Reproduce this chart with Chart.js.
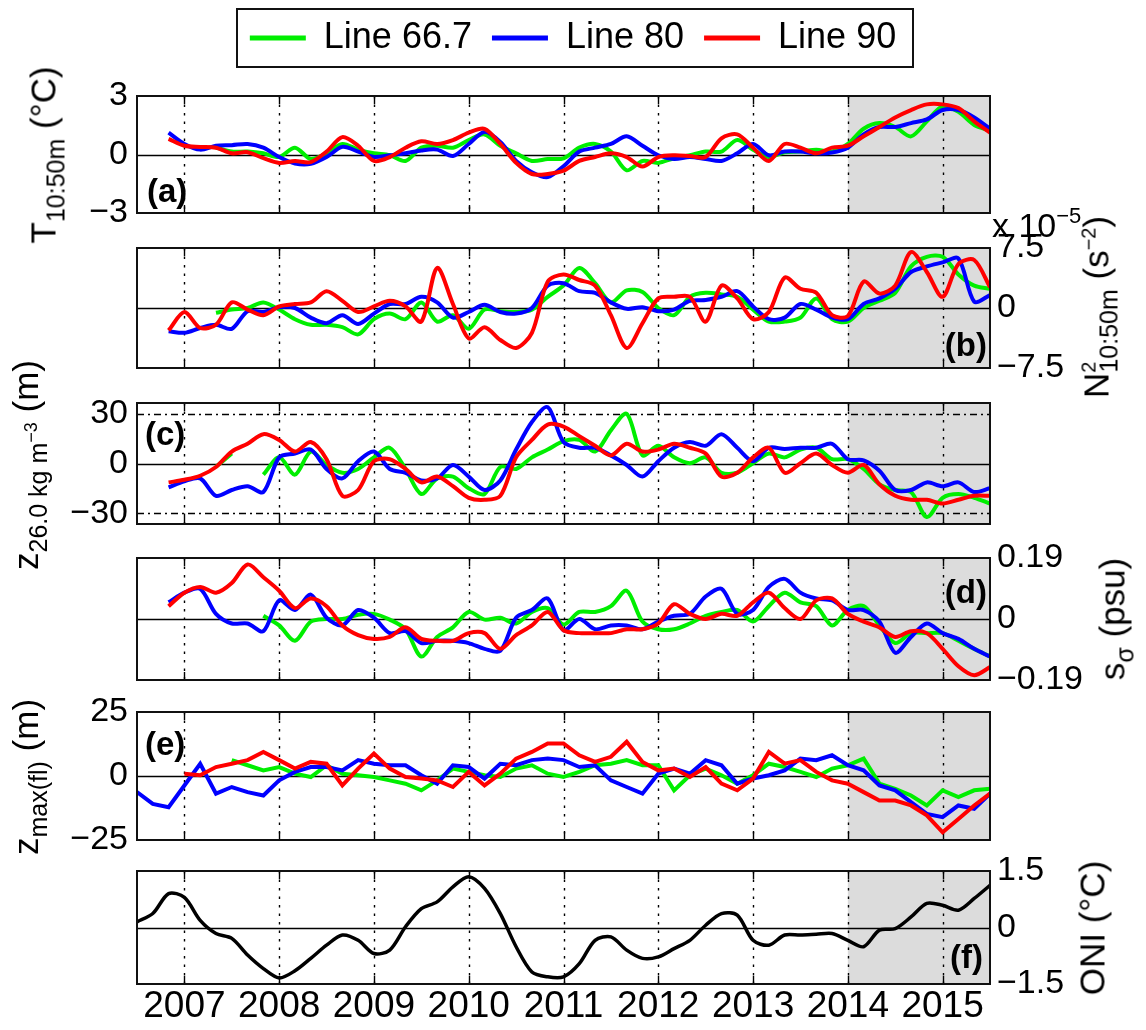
<!DOCTYPE html>
<html>
<head>
<meta charset="utf-8">
<title>Hydrographic anomalies, Lines 66.7 / 80 / 90</title>
<script src="https://cdn.jsdelivr.net/npm/chart.js@4.4.1/dist/chart.umd.min.js"></script>
<style>
  html, body { margin: 0; padding: 0; background: #fff; }
  #fig { position: relative; width: 1146px; height: 1030px; overflow: hidden;
         font-family: "Liberation Sans", Arial, sans-serif; color: #000; }
  .panel { position: absolute; left: 0; width: 1146px; }
  .ylab { position: absolute; font-size: 35px; line-height: 1; white-space: nowrap;
          transform: translate(-50%, -50%) rotate(-90deg); z-index: 5; }
  .ylab sub { font-size: 25px; vertical-align: -9px; line-height: 0; }
  .ylab sup { font-size: 20px; vertical-align: 13px; line-height: 0; }
  .ylab sub sup { font-size: 18px; vertical-align: 10px; }
  #mult { position: absolute; left: 992px; top: 208px; font-size: 34px; line-height: 1;
          white-space: nowrap; z-index: 5; }
  #mult sup { font-size: 22px; vertical-align: 14px; line-height: 0; }
</style>
</head>
<body>
<div id="fig">
  <div class="ylab" style="left:43px; top:155px">T<sub>10:50m</sub> (°C)</div>
  <div class="ylab" style="left:1096px; top:307px">N<sup>2</sup><sub style="margin-left:-11px">10:50m</sub> (s<sup>−2</sup>)</div>
  <div id="mult">x 10<sup>−5</sup></div>
  <div class="ylab" style="left:25px; top:465px">z<sub>26.0 kg m<sup>−3</sup></sub> (m)</div>
  <div class="ylab" style="left:1112px; top:619px">s<sub>σ</sub> (psu)</div>
  <div class="ylab" style="left:25px; top:777px">z<sub>max(fl)</sub> (m)</div>
  <div class="ylab" style="left:1092px; top:928px">ONI (°C)</div>
</div>
<script>
// sampling grid: every two months from mid-2006 to mid-2015
const years = [];
for (let k = 0; k <= 54; k++) years.push(2006.5 + k / 6);
const yearTicks = [2007, 2008, 2009, 2010, 2011, 2012, 2013, 2014, 2015];
const shadeFrom = 2014;
const seriesNames = ['Line 66.7', 'Line 80', 'Line 90'];

// (a) temperature 10-50 m (degC)
const tempGreen = [null, null, null, null, null, 0.35, 0.15, 0.15, 0.06, -0.13, 0.35, -0.23, 0.06, 0.54, 0.25,
  0.06, -0.04, -0.33, 0.35, 0.45, 0.35, 0.74, 1.03, 0.45, 0.06, -0.33, -0.23, -0.2, 0.35, 0.54,
  0.15, -0.81, -0.33, -0.43, -0.19, -0.04, 0.15, 0.15, 0.74, 0.25, -0.13, 0.12, 0.15, 0.25, 0.15,
  0.54, 1.32, 1.61, 1.41, 0.93, 1.7, 2.48, 2.19, 1.51, 1.22];
const tempBlue = [null, null, 1.12, 0.54, 0.25, 0.45, 0.48, 0.54, 0.35, -0.13, -0.46, -0.48, -0.13, 0.39, 0.15,
  -0.13, -0.04, 0.06, 0.21, 0.25, -0.08, 0.54, 1.16, 0.64, -0.33, -0.91, -1.16, -0.6, 0.15, 0.35,
  0.54, 0.93, 0.45, -0.04, -0.23, -0.13, -0.23, -0.33, 0.06, 0.54, -0.04, 0.15, 0.15, 0.06, 0.1,
  0.35, 1.03, 1.41, 1.41, 1.61, 1.8, 2.28, 2.28, 1.9, 1.32];
const tempRed = [null, null, 0.8, 0.45, 0.39, 0.35, 0.06, 0.12, -0.19, -0.43, -0.33, -0.39, 0.15, 0.89, 0.45,
  -0.33, -0.13, 0.35, 0.68, 0.54, 0.74, 1.12, 1.32, 0.54, -0.43, -1.0, -1.0, -0.83, -0.33, -0.13,
  0.06, -0.13, -0.62, -0.13, -0.04, -0.08, -0.13, 0.83, 1.03, 0.35, -0.33, 0.54, 0.35, 0.06, 0.35,
  0.45, 0.93, 1.41, 1.9, 2.28, 2.57, 2.57, 2.38, 1.7, 1.12];

// (b) N^2 10-50 m (1e-5 s^-2)
const n2Green = [null, null, null, null, null, -0.6, -0.2, 0, 0.7, -0.2, -1.4, -2.1, -2.1, -2.4, -3.3,
  -1.4, -0.7, -1.4, 0.7, -1.7, -0.9, -2.6, -0.2, -0.4, -0.5, -0.2, 1.4, 2.8, 5.0, 3.1,
  0.7, 2.2, 2.0, 0, -0.9, 1.4, 1.9, 1.7, 1.4, -0.2, -1.7, -1.7, -1.2, 1.2, -1.4,
  -1.7, 0, 0.9, 1.9, 5.2, 6.4, 6.4, 4.2, 2.8, 2.4];
const n2Blue = [null, null, -2.9, -3.1, -2.5, -2.1, -2.6, -0.4, -0.5, 0.1, 0, -1.2, -1.9, -0.9, -2.0,
  -0.7, 0.5, 0.5, 1.4, 0.7, -1.2, -0.5, 0.4, -0.5, -0.7, 0, 2.8, 3.1, 2.1, 1.9,
  0.7, -0.1, 0.1, -0.4, -0.2, 0.9, 1.0, 1.4, 2.1, 0.2, -1.4, -1.2, 0.5, -0.2, -1.2,
  -1.4, 0.5, 1.2, 2.4, 4.5, 5.2, 5.7, 6.2, 0.8, 1.6];
const n2Red = [null, null, -2.8, -0.5, -2.5, -2.1, 0.7, -0.2, -0.9, 0.2, 0.5, 0.7, 2.1, 0.9, -0.5,
  0.2, 0.9, 0.2, -1.7, 5.0, 0.5, -3.8, -2.4, -4.0, -5.0, -3.1, 3.3, 4.2, 3.5, 2.8,
  -0.9, -5.0, -1.9, 1.2, 1.4, 1.4, -1.7, 2.8, 1.2, -1.4, -0.5, 3.8, 2.4, 1.9, -0.9,
  -1.0, 3.3, 1.8, 2.8, 7.0, 4.5, 1.4, 5.5, 6.0, 2.6];

// (c) depth of 26.0 kg m-3 isopycnal (m)
const z26Green = [null, null, null, null, null, -2, 6, null, -6.7, 3.7, -6.7, 7.2, -0.9, -5.6, -3.3,
  3.7, 9.5, -3.3, -18.4, -9, -7.9, -14.9, -18.4, -2.1, -3.3, 3.7, 8.4, 13.5, 14.2, 7.2,
  20, 30, 4.9, 10.7, 3.7, 0.2, 3.7, -5.6, -5.6, 0.2, 6, 3.7, 8.4, 9.5, 2.6,
  2.6, -3.3, -12.6, -16, -17.2, -32.3, -20.7, -18.4, -20.7, -24.2];
const z26Blue = [null, null, -14.4, -10.7, -9, -19.5, -16, -13.7, -17.2, 3.7, 6, 8.4, -3.3, -9, 1.4,
  7.2, -3.3, -5.6, -10.2, -9, -0.9, -7.9, -16, -10.2, 8.4, 25, 34, 13, 9.5, 9.5,
  4.9, -0.9, -7.9, 1.4, 9.5, 13, 10.7, 17.7, 9.5, 1.4, 9.5, 8.8, 9.5, 9.5, 11.9,
  2.6, 1.9, -4.4, -16, -16, -11.4, -13.7, -11.4, -17.2, -14.9];
const z26Red = [null, null, -11.4, -9.8, -7.4, -2.1, 7.2, 11.9, 17.7, 14.2, 7.2, 13, 2.6, -19.5, -16,
  1.4, 2.6, -3.3, -11.4, -7.9, -13.7, -20.7, -21.9, -19.5, 3.7, 14.2, 23.5, 22.3, 16.5, 10.7,
  4.9, 11.9, 7.2, 8.4, 11.9, 9.5, 6, -7.9, -5.6, 3.7, 9.5, -5.6, 0.2, 6, -0.9,
  -5.6, -0.9, -12.6, -19.5, -21.9, -21.9, -24.2, -21.9, -19.5, -19.5];

// (d) salinity on sigma surfaces (psu)
const salGreen = [null, null, null, null, null, null, null, null, 0.01, -0.02, -0.068, -0.008, 0, 0, 0.013,
  0.016, -0.002, -0.032, -0.117, -0.056, -0.026, 0.022, -0.002, 0.004, -0.014, 0.022, 0.034, -0.017, 0.022, 0.022,
  0.04, 0.088, -0.008, -0.032, -0.032, -0.014, 0.01, 0.022, 0.028, -0.008, 0.04, 0.082, 0.052, 0.04, -0.02,
  0.028, 0.04, -0.02, -0.075, -0.044, -0.044, -0.044, -0.068, -0.093, -0.117];
const salBlue = [null, null, 0.052, 0.082, 0.094, 0.016, -0.014, -0.014, -0.038, 0.058, 0.028, 0.076, 0.004, -0.02, 0.028,
  0.004, -0.044, -0.038, -0.075, -0.068, -0.068, -0.075, -0.093, -0.099, 0.004, 0.028, 0.064, -0.035, 0, -0.032,
  -0.02, -0.02, -0.032, -0.008, 0.01, 0.016, 0.07, 0.094, 0.016, 0.028, 0.1, 0.125, 0.082, 0.064, 0.058,
  0.028, 0.028, -0.008, -0.105, -0.056, -0.014, -0.044, -0.062, -0.093, -0.117];
const salRed = [null, null, 0.04, 0.082, 0.1, 0.082, 0.112, 0.17, 0.13, 0.088, 0.034, 0.064, 0.04, -0.02, -0.05,
  -0.062, -0.056, -0.026, -0.062, -0.068, -0.068, -0.044, -0.044, -0.093, -0.05, -0.02, 0.022, -0.035, -0.044, -0.044,
  -0.044, -0.032, -0.032, -0.014, 0.046, 0.016, 0, 0.016, 0.01, 0.052, 0.082, 0.034, 0, 0.058, 0.064,
  0.016, -0.008, -0.026, -0.056, -0.038, -0.044, -0.093, -0.147, -0.175, -0.15];

// (e) depth of fluorescence maximum (m)
const zmaxGreen = [null, null, null, null, null, null, 6.2, 4.2, 2.2, 3.5, 0.9, -0.4, 4.2, 0.9, 0.3,
  -0.4, -1.7, -3.0, -5.6, -1.7, 2.9, 1.6, 0.3, -0.4, 2.9, 4.2, 0.9, -0.4, 1.6, 4.2,
  4.8, 6.2, 4.2, 4.2, -5.6, 0.3, 2.9, 0.3, -3.0, 0.3, 4.8, 3.5, 1.6, -0.4, 2.9,
  4.2, 6.8, -3.0, -5.0, -7.6, -11.5, -5.6, -8.2, -5.6, -5.0];
const zmaxBlue = [-6.3, -10.9, -12.2, -3.7, 4.8, -6.9, -4.3, -6.3, -7.6, -1.7, 1.6, 3.5, 3.5, 2.2, 6.2,
  4.8, 4.2, 4.2, 0.3, -3.0, 4.2, 3.5, -1.0, 4.8, 4.2, 6.2, 6.8, 6.2, 3.5, 4.2,
  -1.7, -4.3, -6.9, 0.9, 2.9, 0.9, 6.2, 4.2, -3.0, -1.0, 0.3, 2.2, 6.8, 6.2, 8.1,
  4.2, 2.2, -3.7, -5.6, -10.2, -14.8, -16.1, -11.5, -12.8, -6.9];
const zmaxRed = [null, null, null, 0.9, 0.3, 3.5, 4.8, 6.2, 9.4, 6.2, 2.9, 5.5, 4.8, -3.7, 2.9,
  8.8, 2.9, -0.4, -1.0, -1.7, -4.3, 1.6, -3.7, 0.9, 6.8, 9.4, 12.7, 12.7, 8.1, 5.5,
  7.5, 13.4, 5.5, 2.2, 2.9, -0.4, 3.5, -3.0, -5.6, -1.0, 9.4, 4.8, 6.2, 1.6, -1.7,
  -3.0, -6.3, -9.6, -9.6, -11.5, -15.4, -22.0, -16.8, -11.5, -6.9];

// (f) Oceanic Nino Index (degC)
const oni = [0.15, 0.37, 0.9, 0.8, 0.19, -0.16, -0.29, -0.73, -1.09, -1.34, -1.15, -0.82, -0.47, -0.2, -0.34,
  -0.69, -0.6, 0.02, 0.5, 0.68, 1.08, 1.35, 1.04, 0.37, -0.51, -1.18, -1.31, -1.31, -0.96, -0.34,
  -0.25, -0.6, -0.82, -0.78, -0.56, -0.34, 0.06, 0.37, 0.33, -0.34, -0.47, -0.2, -0.2, -0.18, -0.16,
  -0.34, -0.51, -0.07, -0.03, 0.28, 0.64, 0.59, 0.46, 0.77, 1.12];

const FONT = '"Liberation Sans", Arial, sans-serif';
const colors = ['#00ee00', '#0000ff', '#ff0000'];

Chart.defaults.font.family = FONT;
Chart.defaults.color = '#000';

function fmt(v) {
    return v < 0 ? '\u2212' + Math.abs(v) : String(v);
}

function seg(ctx, x1, y1, x2, y2) {
    ctx.beginPath();
    ctx.moveTo(x1, y1);
    ctx.lineTo(x2, y2);
    ctx.stroke();
}

// shading, year grid, zero line, frame, panel letter, legend frame
const panelDeco = {
    id: 'deco',
    beforeDatasetsDraw(chart, args, o) {
        const ctx = chart.ctx, a = chart.chartArea;
        const x = chart.scales.x, y = chart.scales.y;
        ctx.save();
        const xs = x.getPixelForValue(shadeFrom);
        ctx.fillStyle = '#dcdcdc';
        ctx.fillRect(xs, a.top, a.right - xs, a.bottom - a.top);

        ctx.strokeStyle = '#000';
        ctx.lineWidth = 1.4;
        ctx.setLineDash([2.5, 6]);
        yearTicks.forEach(v => {
            const px = Math.round(x.getPixelForValue(v)) + 0.5;
            seg(ctx, px, a.top, px, a.bottom);
        });
        ctx.setLineDash([7, 4, 2, 4]);
        (o.refs || []).forEach(v => {
            const py = Math.round(y.getPixelForValue(v)) + 0.5;
            seg(ctx, a.left, py, a.right, py);
        });
        ctx.setLineDash([]);
        yearTicks.forEach(v => {
            const px = Math.round(x.getPixelForValue(v)) + 0.5;
            seg(ctx, px, a.top, px, a.top + 8);
            seg(ctx, px, a.bottom - 8, px, a.bottom);
        });
        const y0 = Math.round(y.getPixelForValue(0)) + 0.5;
        ctx.lineWidth = 1.6;
        seg(ctx, a.left, y0, a.right, y0);
        ctx.restore();
    },
    afterDatasetsDraw(chart, args, o) {
        const ctx = chart.ctx, a = chart.chartArea;
        ctx.save();
        ctx.strokeStyle = '#111';
        ctx.lineWidth = 2;
        ctx.strokeRect(a.left, a.top, a.right - a.left, a.bottom - a.top);
        ctx.font = 'bold 33px ' + FONT;
        ctx.fillStyle = '#000';
        const c = o.corner;
        ctx.textAlign = c[1] === 'l' ? 'left' : 'right';
        const tx = (c[1] === 'l' ? a.left : a.right) + o.dx;
        const ty = (c[0] === 't' ? a.top : a.bottom) + o.dy;
        ctx.fillText(o.label, tx, ty);
        ctx.restore();
    },
    afterDraw(chart, args, o) {
        if (!o.legendBox || !chart.legend) return;
        const hb = chart.legend.legendHitBoxes;
        if (!hb || !hb.length) return;
        const ctx = chart.ctx;
        const l = Math.min(...hb.map(h => h.left)) - 13;
        const r = Math.max(...hb.map(h => h.left + h.width)) + 17;
        const cy = hb[0].top + hb[0].height / 2;
        ctx.save();
        ctx.strokeStyle = '#111';
        ctx.lineWidth = 2;
        ctx.strokeRect(Math.round(l), Math.round(cy - 29), Math.round(r - l), 58);
        ctx.restore();
    }
};

const panels = [
    {top: 96, bottom: 213, side: 'left', lim: 3, ticks: [-3, 0, 3], sets: [tempGreen, tempBlue, tempRed],
     label: '(a)', corner: 'bl', dx: 10, dy: -20, legend: true, tension: 0.3},
    {top: 248, bottom: 368, side: 'right', lim: 7.5, ticks: [-7.5, 0, 7.5], sets: [n2Green, n2Blue, n2Red],
     label: '(b)', corner: 'br', dx: -3, dy: -12, tension: 0.3},
    {top: 403, bottom: 524, side: 'left', lim: 36.5, ticks: [-30, 0, 30], refs: [-30, 30], sets: [z26Green, z26Blue, z26Red],
     label: '(c)', corner: 'tl', dx: 8, dy: 42, tension: 0.3},
    {top: 558, bottom: 680, side: 'right', lim: 0.19, ticks: [-0.19, 0, 0.19], sets: [salGreen, salBlue, salRed],
     label: '(d)', corner: 'tr', dx: -3, dy: 45, tension: 0.3},
    {top: 712, bottom: 840, side: 'left', lim: 25, ticks: [-25, 0, 25], sets: [zmaxGreen, zmaxBlue, zmaxRed],
     label: '(e)', corner: 'tl', dx: 8, dy: 43, tension: 0},
    {top: 871, bottom: 984, side: 'right', lim: 1.5, ticks: [-1.5, 0, 1.5], sets: null,
     label: '(f)', corner: 'br', dx: -7, dy: -16, xLabels: true, tension: 0.3}
];

function points(arr) {
    return years.map((t, i) => ({x: t, y: arr[i]}));
}

const fig = document.getElementById('fig');

panels.forEach(p => {
    const padTop = p.legend ? 0 : 30;
    const padBottom = p.xLabels ? 0 : 30;
    const axisBottom = p.xLabels ? 46 : 0;
    const divTop = p.legend ? 0 : p.top - 30;
    const height = (p.bottom - divTop) + padBottom + axisBottom;

    const wrap = document.createElement('div');
    wrap.className = 'panel';
    wrap.style.top = divTop + 'px';
    wrap.style.height = height + 'px';
    const cv = document.createElement('canvas');
    cv.width = 1146;
    cv.height = height;
    wrap.appendChild(cv);
    fig.insertBefore(wrap, fig.firstChild);

    let datasets;
    if (p.sets) {
        datasets = p.sets.map((arr, i) => ({
            label: seriesNames[i],
            data: points(arr),
            borderColor: colors[i],
            backgroundColor: colors[i],
            borderWidth: 4,
            pointRadius: 0,
            tension: p.tension,
            spanGaps: false,
            order: 3 - i
        }));
    } else {
        datasets = [{
            label: 'ONI',
            data: points(oni),
            borderColor: '#000',
            backgroundColor: '#000',
            borderWidth: 3.5,
            pointRadius: 0,
            tension: p.tension
        }];
    }

    const other = p.side === 'left' ? 'right' : 'left';
    new Chart(cv.getContext('2d'), {
        type: 'line',
        data: {datasets},
        plugins: [panelDeco],
        options: {
            responsive: false,
            animation: false,
            devicePixelRatio: 1,
            layout: {padding: {top: padTop, bottom: padBottom, left: 0, right: 0}},
            scales: {
                x: {
                    type: 'linear',
                    min: 2006.5,
                    max: 2015.5,
                    position: p.legend ? 'top' : 'bottom',
                    display: !!(p.legend || p.xLabels),
                    afterBuildTicks: s => { s.ticks = yearTicks.map(v => ({value: v})); },
                    afterFit: s => {
                        if (p.legend) s.height = 96 - (s.chart.legend ? s.chart.legend.height : 66);
                        else if (p.xLabels) s.height = axisBottom;
                    },
                    grid: {display: false, drawTicks: false},
                    border: {display: false},
                    ticks: {
                        display: !!p.xLabels,
                        autoSkip: false,
                        maxRotation: 0,
                        padding: 1,
                        color: '#000',
                        font: {family: FONT, size: 37},
                        callback: v => String(v)
                    }
                },
                y: {
                    type: 'linear',
                    position: p.side,
                    min: -p.lim,
                    max: p.lim,
                    afterBuildTicks: s => { s.ticks = p.ticks.map(v => ({value: v})); },
                    afterFit: s => { s.width = p.side === 'left' ? 137 : 156; },
                    grid: {display: false, drawTicks: false},
                    border: {display: false},
                    ticks: {
                        padding: p.side === 'left' ? 9 : 7,
                        color: '#000',
                        font: {family: FONT, size: 34},
                        callback: v => fmt(v)
                    }
                },
                y2: {
                    type: 'linear',
                    position: other,
                    display: true,
                    afterFit: s => { s.width = other === 'left' ? 137 : 156; },
                    grid: {display: false, drawTicks: false},
                    border: {display: false},
                    ticks: {display: false}
                }
            },
            plugins: {
                legend: {
                    display: !!p.legend,
                    position: 'top',
                    labels: {
                        boxWidth: 56,
                        boxHeight: 5,
                        padding: 20,
                        color: '#000',
                        font: {family: FONT, size: 36},
                        sort: (a, b) => a.datasetIndex - b.datasetIndex,
                        generateLabels: ch => Chart.defaults.plugins.legend.labels.generateLabels(ch)
                            .map(it => Object.assign(it, {lineWidth: 0, fillStyle: it.strokeStyle}))
                    }
                },
                tooltip: {enabled: false},
                deco: {
                    label: p.label,
                    corner: p.corner,
                    dx: p.dx,
                    dy: p.dy,
                    refs: p.refs || [],
                    legendBox: !!p.legend
                }
            }
        }
    });
});
</script>
</body>
</html>
